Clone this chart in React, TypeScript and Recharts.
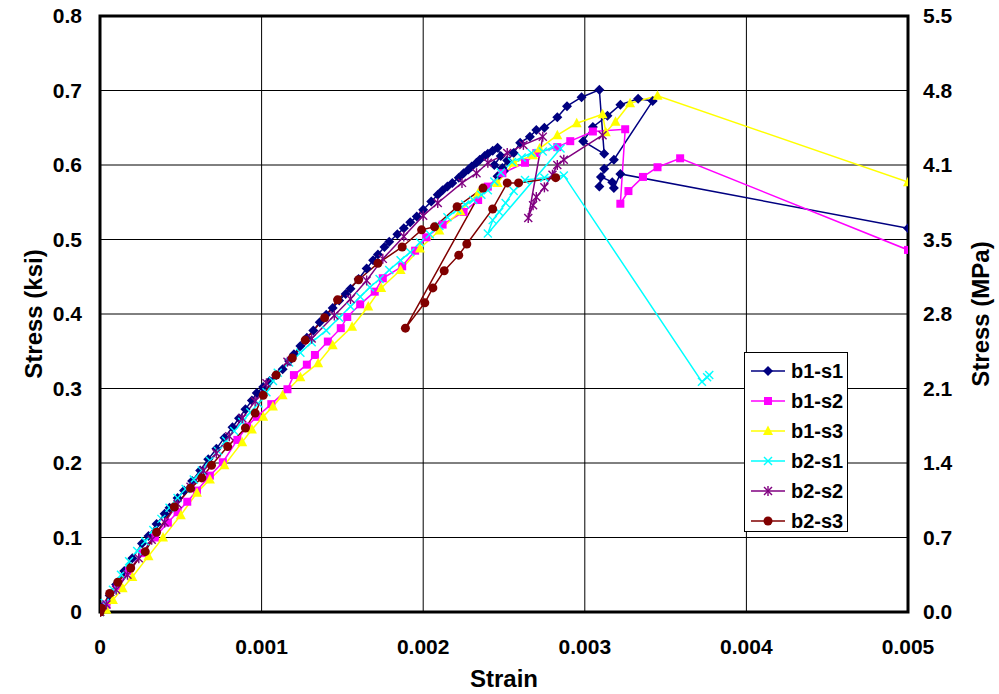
import React from 'react';
import { LineChart, Line, XAxis, YAxis, CartesianGrid, ReferenceArea } from 'recharts';

// [strain, stress (ksi)]
const b1s1: [number, number][] = [
  [0, 0], [0.00002, 0.008], [0.00006, 0.022], [0.0001, 0.037], [0.00015, 0.055], [0.0002, 0.072], [0.00026, 0.092],
  [0.0003, 0.102], [0.00035, 0.118], [0.0004, 0.132], [0.00043, 0.14], [0.00048, 0.153], [0.00052, 0.163], [0.00057, 0.176],
  [0.00062, 0.19], [0.00067, 0.205], [0.00072, 0.219], [0.00077, 0.234], [0.00082, 0.248], [0.00086, 0.26], [0.0009, 0.272],
  [0.00094, 0.284], [0.00097, 0.294], [0.00101, 0.302], [0.00105, 0.31], [0.00109, 0.318], [0.00113, 0.326], [0.00117, 0.337],
  [0.0012, 0.346], [0.00124, 0.357], [0.00128, 0.368], [0.00132, 0.378], [0.00136, 0.389], [0.0014, 0.399], [0.00144, 0.408],
  [0.00148, 0.418], [0.00152, 0.427], [0.00155, 0.434], [0.0016, 0.447], [0.00165, 0.461], [0.00169, 0.472], [0.00172, 0.48],
  [0.00176, 0.49], [0.00179, 0.497], [0.00184, 0.507], [0.00188, 0.515], [0.00192, 0.523], [0.00196, 0.531], [0.002, 0.54],
  [0.00205, 0.551], [0.00209, 0.56], [0.00212, 0.566], [0.00215, 0.571], [0.00218, 0.576], [0.00222, 0.583], [0.00225, 0.589],
  [0.00228, 0.594], [0.0023, 0.598], [0.00233, 0.603], [0.00235, 0.607], [0.00238, 0.612], [0.0024, 0.615], [0.00243, 0.619],
  [0.00246, 0.623], [0.00248, 0.612], [0.00244, 0.6], [0.0025, 0.592], [0.00246, 0.585], [0.00249, 0.596], [0.00252, 0.606],
  [0.00256, 0.616], [0.0026, 0.63], [0.00266, 0.638], [0.0027, 0.647], [0.00275, 0.65], [0.00283, 0.664], [0.00289, 0.679],
  [0.00298, 0.691], [0.00309, 0.701], [0.00312, 0.615], [0.00299, 0.632], [0.00305, 0.651], [0.00314, 0.666], [0.00322, 0.681],
  [0.00333, 0.689], [0.00342, 0.686], [0.00318, 0.607], [0.00312, 0.595], [0.00309, 0.571], [0.0031, 0.584], [0.00317, 0.577],
  [0.00318, 0.569], [0.00322, 0.588], [0.005, 0.515],
];

const b1s2: [number, number][] = [
  [0, 0], [0.00004, 0.01], [0.00011, 0.035], [0.00018, 0.055], [0.00026, 0.079], [0.00034, 0.1], [0.00042, 0.12],
  [0.00048, 0.134], [0.00054, 0.148], [0.0006, 0.163], [0.00068, 0.183], [0.00076, 0.201], [0.00085, 0.231], [0.00091, 0.249],
  [0.00097, 0.262], [0.00106, 0.279], [0.00116, 0.299], [0.0012, 0.318], [0.00128, 0.332], [0.00133, 0.345], [0.00141, 0.363],
  [0.00149, 0.381], [0.00153, 0.396], [0.00161, 0.413], [0.0017, 0.43], [0.00175, 0.448], [0.00187, 0.464], [0.00195, 0.485],
  [0.00202, 0.503], [0.00212, 0.52], [0.00225, 0.537], [0.00234, 0.553], [0.0024, 0.571], [0.00249, 0.589], [0.00263, 0.603],
  [0.0027, 0.616], [0.00283, 0.624], [0.00291, 0.632], [0.00305, 0.645], [0.00325, 0.648], [0.00322, 0.548], [0.00327, 0.565],
  [0.00336, 0.584], [0.00345, 0.597], [0.00359, 0.609], [0.005, 0.486],
];

const b1s3: [number, number][] = [
  [0, 0], [0.00004, 0.003], [0.00008, 0.016], [0.00014, 0.032], [0.0002, 0.047], [0.0003, 0.075], [0.00039, 0.1],
  [0.0005, 0.13], [0.0006, 0.16], [0.00068, 0.178], [0.00077, 0.197], [0.00088, 0.228], [0.00094, 0.245], [0.00101, 0.262],
  [0.00107, 0.276], [0.00113, 0.291], [0.00124, 0.315], [0.00135, 0.334], [0.00144, 0.358], [0.00156, 0.383], [0.00166, 0.41],
  [0.00174, 0.435], [0.00186, 0.459], [0.00198, 0.488], [0.0021, 0.512], [0.00223, 0.538], [0.00234, 0.562], [0.00246, 0.576],
  [0.00256, 0.603], [0.00268, 0.613], [0.00272, 0.622], [0.00283, 0.64], [0.00295, 0.656], [0.00311, 0.668], [0.00313, 0.644],
  [0.00319, 0.658], [0.00328, 0.683], [0.00345, 0.693], [0.005, 0.577],
];

const b2s1: [number, number][] = [
  [0, 0], [0.00003, 0.012], [0.00008, 0.03], [0.00013, 0.05], [0.00018, 0.068], [0.00023, 0.082], [0.00028, 0.095],
  [0.00033, 0.11], [0.00038, 0.125], [0.00043, 0.14], [0.00048, 0.153], [0.00053, 0.165], [0.00058, 0.178], [0.00063, 0.19],
  [0.00068, 0.203], [0.00073, 0.216], [0.00078, 0.23], [0.00083, 0.243], [0.00088, 0.255], [0.00093, 0.268], [0.00098, 0.28],
  [0.00103, 0.295], [0.00107, 0.31], [0.0011, 0.321], [0.00117, 0.335], [0.00124, 0.348], [0.00131, 0.362], [0.0014, 0.378],
  [0.00148, 0.395], [0.00155, 0.41], [0.00161, 0.423], [0.00167, 0.436], [0.00173, 0.447], [0.00179, 0.459], [0.00186, 0.472],
  [0.00192, 0.483], [0.00198, 0.496], [0.00204, 0.507], [0.0021, 0.518], [0.00215, 0.53], [0.00221, 0.54], [0.00226, 0.547],
  [0.00231, 0.553], [0.00236, 0.56], [0.0024, 0.566], [0.00244, 0.578], [0.00248, 0.59], [0.00255, 0.604], [0.00261, 0.61],
  [0.00267, 0.616], [0.00274, 0.618], [0.0028, 0.624], [0.00285, 0.622], [0.0024, 0.508], [0.00243, 0.526], [0.00247, 0.537],
  [0.00251, 0.549], [0.00256, 0.565], [0.00263, 0.58], [0.00275, 0.583], [0.00287, 0.586], [0.003725, 0.309],
  [0.003757, 0.315], [0.00377, 0.318],
];

const b2s2: [number, number][] = [
  [0, 0], [0.00004, 0.01], [0.0001, 0.03], [0.00017, 0.05], [0.00024, 0.072], [0.00032, 0.097], [0.0004, 0.12],
  [0.00048, 0.145], [0.00056, 0.168], [0.00064, 0.19], [0.00072, 0.213], [0.0008, 0.236], [0.00088, 0.26], [0.00096, 0.283],
  [0.00103, 0.307], [0.00116, 0.336], [0.00131, 0.367], [0.00145, 0.398], [0.00155, 0.42], [0.00165, 0.445], [0.00175, 0.474],
  [0.00188, 0.504], [0.002, 0.532], [0.00209, 0.549], [0.00224, 0.576], [0.00233, 0.589], [0.0024, 0.603], [0.00252, 0.616],
  [0.00262, 0.627], [0.00274, 0.638], [0.00265, 0.529], [0.00268, 0.546], [0.0027, 0.557], [0.00275, 0.57], [0.0028, 0.587],
  [0.00283, 0.6], [0.00287, 0.607], [0.00311, 0.64],
];

const b2s3: [number, number][] = [
  [0, 0], [0.00001, 0.005], [0.00006, 0.025], [0.00011, 0.04], [0.00019, 0.059], [0.00028, 0.081], [0.00035, 0.107],
  [0.00046, 0.141], [0.00056, 0.166], [0.00063, 0.18], [0.00069, 0.197], [0.00079, 0.222], [0.0009, 0.247], [0.00096, 0.267],
  [0.00101, 0.291], [0.00109, 0.318], [0.00119, 0.341], [0.00127, 0.365], [0.00139, 0.395], [0.00147, 0.419], [0.0016, 0.446],
  [0.00172, 0.468], [0.00187, 0.49], [0.00199, 0.513], [0.00207, 0.517], [0.00221, 0.544], [0.00237, 0.569], [0.00189, 0.381],
  [0.00201, 0.415], [0.00206, 0.435], [0.00213, 0.458], [0.00222, 0.479], [0.00227, 0.494], [0.00243, 0.541], [0.00252, 0.576],
  [0.00259, 0.576], [0.00282, 0.583],
];

const xTicks = [0, 0.001, 0.002, 0.003, 0.004, 0.005];
const xTickLabels = ['0', '0.001', '0.002', '0.003', '0.004', '0.005'];
const yTicks = [0, 0.1, 0.2, 0.3, 0.4, 0.5, 0.6, 0.7, 0.8];
const yTickLabels = ['0', '0.1', '0.2', '0.3', '0.4', '0.5', '0.6', '0.7', '0.8'];
const mpaTickLabels = ['0.0', '0.7', '1.4', '2.1', '2.8', '3.5', '4.1', '4.8', '5.5'];

const FONT = "'Liberation Sans', Arial, sans-serif";

type Marker = 'diamond' | 'square' | 'triangle' | 'x' | 'star' | 'circle';

const seriesList: { name: string; data: [number, number][]; color: string; marker: Marker }[] = [
  { name: 'b1-s1', data: b1s1, color: '#000080', marker: 'diamond' },
  { name: 'b1-s2', data: b1s2, color: '#FF00FF', marker: 'square' },
  { name: 'b1-s3', data: b1s3, color: '#FFFF00', marker: 'triangle' },
  { name: 'b2-s1', data: b2s1, color: '#00FFFF', marker: 'x' },
  { name: 'b2-s2', data: b2s2, color: '#800080', marker: 'star' },
  { name: 'b2-s3', data: b2s3, color: '#800000', marker: 'circle' },
];

function MarkerShape({ cx, cy, marker, color }: { cx: number; cy: number; marker: Marker; color: string }) {
  switch (marker) {
    case 'diamond':
      return <polygon points={`${cx},${cy - 5} ${cx + 5},${cy} ${cx},${cy + 5} ${cx - 5},${cy}`} fill={color} />;
    case 'square':
      return <rect x={cx - 4} y={cy - 4} width={8} height={8} fill={color} />;
    case 'triangle':
      return <polygon points={`${cx},${cy - 5.5} ${cx + 5},${cy + 4} ${cx - 5},${cy + 4}`} fill={color} />;
    case 'x':
      return (
        <g stroke={color} strokeWidth={1.4}>
          <line x1={cx - 4} y1={cy - 4} x2={cx + 4} y2={cy + 4} />
          <line x1={cx - 4} y1={cy + 4} x2={cx + 4} y2={cy - 4} />
        </g>
      );
    case 'star':
      return (
        <g stroke={color} strokeWidth={1.4}>
          <line x1={cx - 4} y1={cy - 4} x2={cx + 4} y2={cy + 4} />
          <line x1={cx - 4} y1={cy + 4} x2={cx + 4} y2={cy - 4} />
          <line x1={cx} y1={cy - 5} x2={cx} y2={cy + 5} />
        </g>
      );
    case 'circle':
    default:
      return <circle cx={cx} cy={cy} r={4.5} fill={color} />;
  }
}

function Legend() {
  return (
    <div
      style={{
        position: 'absolute', left: 744, top: 352, width: 102, height: 178,
        border: '1px solid #000', background: '#fff', boxSizing: 'content-box',
      }}
    >
      {seriesList.map((s, i) => (
        <div key={s.name} style={{ position: 'absolute', left: 0, top: 3 + i * 30, height: 30, width: 102 }}>
          <svg width={40} height={30} style={{ position: 'absolute', left: 0, top: 0 }}>
            <line x1={6} y1={15} x2={40} y2={15} stroke={s.color} strokeWidth={1.5} />
            <MarkerShape cx={23} cy={15} marker={s.marker} color={s.color} />
          </svg>
          <span
            style={{
              position: 'absolute', left: 46, top: 3, fontFamily: FONT, fontWeight: 'bold', fontSize: 20,
              lineHeight: '24px', color: '#000',
            }}
          >
            {s.name}
          </span>
        </div>
      ))}
    </div>
  );
}

const tickStyle = { fontFamily: FONT, fontWeight: 'bold' as const, fontSize: 21, fill: '#000' };
const titleStyle = { ...tickStyle, fontSize: 24 };

export default function App() {
  return (
    <div style={{ position: 'absolute', left: 0, top: 0, width: 999, height: 694, background: '#fff' }}>
      <LineChart width={999} height={694} margin={{ top: 16, right: 31, left: 30, bottom: 32 }}>
        <CartesianGrid yAxisId="left" stroke="#000" strokeWidth={1} vertical horizontal />
        <XAxis
          type="number"
          dataKey="x"
          domain={[0, 0.005]}
          ticks={xTicks}
          tickFormatter={(v: number, i: number) => xTickLabels[i]}
          allowDataOverflow
          height={50}
          tickLine={false}
          tickSize={0}
          tickMargin={27}
          axisLine={false}
          tick={tickStyle}
          label={(props: any) => {
            const vb = props.viewBox || {};
            return (
              <text x={vb.x + vb.width / 2} y={687} textAnchor="middle" style={titleStyle}>
                Strain
              </text>
            );
          }}
        />
        <YAxis
          yAxisId="left"
          type="number"
          domain={[0, 0.8]}
          ticks={yTicks}
          tickFormatter={(v: number, i: number) => yTickLabels[i]}
          width={70}
          tickLine={false}
          tickSize={0}
          tickMargin={18}
          axisLine={false}
          tick={tickStyle}
          label={(props: any) => {
            const vb = props.viewBox || {};
            const cy = vb.y + vb.height / 2;
            return (
              <text x={42} y={cy} transform={`rotate(-90, 42, ${cy})`} textAnchor="middle" style={titleStyle}>
                Stress (ksi)
              </text>
            );
          }}
        />
        <YAxis
          yAxisId="right"
          orientation="right"
          type="number"
          domain={[0, 0.8]}
          ticks={yTicks}
          tickFormatter={(v: number, i: number) => mpaTickLabels[i]}
          width={60}
          tickLine={false}
          tickSize={0}
          tickMargin={15}
          axisLine={false}
          tick={tickStyle}
          label={(props: any) => {
            const vb = props.viewBox || {};
            const cy = vb.y + vb.height / 2;
            return (
              <text x={989} y={cy} transform={`rotate(-90, 989, ${cy})`} textAnchor="middle" style={titleStyle}>
                Stress (MPa)
              </text>
            );
          }}
        />
        <Line
          yAxisId="right"
          data={b1s1.map(([x, y]) => ({ x, y }))}
          dataKey="y"
          stroke="none"
          strokeOpacity={0}
          dot={false}
          activeDot={false}
          legendType="none"
          isAnimationActive={false}
        />
        {seriesList.map((s) => (
          <Line
            key={s.name}
            yAxisId="left"
            data={s.data.map(([x, y]) => ({ x, y }))}
            dataKey="y"
            name={s.name}
            stroke={s.color}
            strokeWidth={1.5}
            isAnimationActive={false}
            activeDot={false}
            dot={(p: any) => (
              <MarkerShape key={`${s.name}-${p.index}`} cx={p.cx} cy={p.cy} marker={s.marker} color={s.color} />
            )}
          />
        ))}
        <ReferenceArea yAxisId="left" x1={0} x2={0.005} y1={0} y2={0.8} fill="none" fillOpacity={0} stroke="#000" strokeWidth={3} />
      </LineChart>
      <Legend />
    </div>
  );
}
